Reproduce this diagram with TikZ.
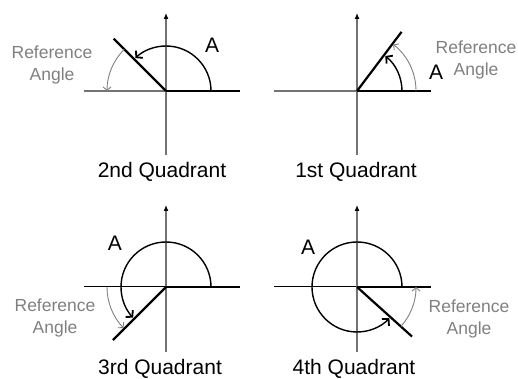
\documentclass[tikz,border=0pt]{standalone}
\usepackage{fontspec}
\setmainfont{Liberation Sans}
\usetikzlibrary{arrows.meta}
\begin{document}
\begin{tikzpicture}[x=1pt,y=1pt,
  axis/.style={draw=gray!90!black,line width=1.2pt},
  vaxis/.style={axis,-{Latex[length=6pt,width=5pt,color=black]}},
  laxis/.style={draw=black,line width=1pt},
  thick side/.style={draw=black,line width=2.2pt},
  arcA/.style={draw=black,line width=1.4pt,-{Straight Barb[length=4.5pt,width=10pt,line width=1.8pt]}},
  arcR/.style={draw=gray,line width=0.9pt,-{Straight Barb[length=3.5pt,width=8pt]}},
  lblA/.style={font=\fontsize{21}{21}\selectfont},
  lblR/.style={font=\fontsize{17.5}{22}\selectfont,text=gray,align=center},
  title/.style={font=\fontsize{21}{21}\selectfont,anchor=base}]
\useasboundingbox (0,0) rectangle (518,379);
% origins
\coordinate (O1) at (166,288);
\coordinate (O2) at (357,288);
\coordinate (O3) at (166,92);
\coordinate (O4) at (357,92);
% ---------- 2nd quadrant ----------
\draw[axis] (O1) ++(-82,0) coordinate (L1) -- (O1);
\draw[vaxis] (O1) ++(0,-64) coordinate (B1) -- ++(0,142) coordinate (T1);
\draw[thick side] (O1) -- ++(74,0) coordinate (R1);
\draw[thick side] (O1) -- ++(135:74) coordinate (S1);
\draw[arcA] (O1) ++(0:45pt) arc[start angle=0,end angle=133,radius=45pt];
\draw[arcR] (O1) ++(135:59pt) arc[start angle=135,end angle=180,radius=59pt];
\node[lblA] (A1) at (212,334) {A};
\node[lblR] (R1l) at (52,314) {Reference\\Angle};
\node[title] (Q1) at (162,201) {2nd Quadrant};
% ---------- 1st quadrant ----------
\draw[axis] (O2) ++(-83,0) coordinate (L2) -- (O2);
\draw[vaxis] (O2) ++(0,-64) coordinate (B2) -- ++(0,142) coordinate (T2);
\draw[thick side] (O2) -- ++(74,0) coordinate (R2);
\draw[thick side] (O2) -- ++(53:74) coordinate (S2);
\draw[arcA] (O2) ++(0:45pt) arc[start angle=0,end angle=51,radius=45pt];
\draw[arcR] (O2) ++(0:59pt) arc[start angle=0,end angle=52,radius=59pt];
\node[lblA] (A2) at (436,307) {A};
\node[lblR] (R2l) at (476,319) {Reference\\Angle};
\node[title] (Q2) at (356,201) {1st Quadrant};
% ---------- 3rd quadrant ----------
\draw[laxis] (O3) ++(-82,0) coordinate (L3) -- (O3);
\draw[vaxis] (O3) ++(0,-65) coordinate (B3) -- ++(0,147) coordinate (T3);
\draw[thick side] (O3) -- ++(74,0) coordinate (R3);
\draw[thick side] (O3) -- ++(225:75) coordinate (S3);
\draw[arcA] (O3) ++(0:45pt) arc[start angle=0,end angle=223,radius=45pt];
\draw[arcR] (O3) ++(180:59pt) arc[start angle=180,end angle=224,radius=59pt];
\node[lblA] (A3) at (115,136) {A};
\node[lblR] (R3l) at (55,61) {Reference\\Angle};
\node[title] (Q3) at (160,4.5) {3rd Quadrant};
% ---------- 4th quadrant ----------
\draw[laxis] (O4) ++(-83,0) coordinate (L4) -- (O4);
\draw[vaxis] (O4) ++(0,-65) coordinate (B4) -- ++(0,147) coordinate (T4);
\draw[thick side] (O4) -- ++(74,0) coordinate (R4);
\draw[thick side] (O4) -- ++(-42:74) coordinate (S4);
\draw[arcA] (O4) ++(0:45pt) arc[start angle=0,end angle=316,radius=45pt];
\draw[arcR] (O4) ++(-42:59pt) arc[start angle=-42,end angle=0,radius=59pt];
\node[lblA] (A4) at (308,132) {A};
\node[lblR] (R4l) at (469,60) {Reference\\Angle};
\node[title] (Q4) at (354,4.5) {4th Quadrant};
\end{tikzpicture}
\end{document}
